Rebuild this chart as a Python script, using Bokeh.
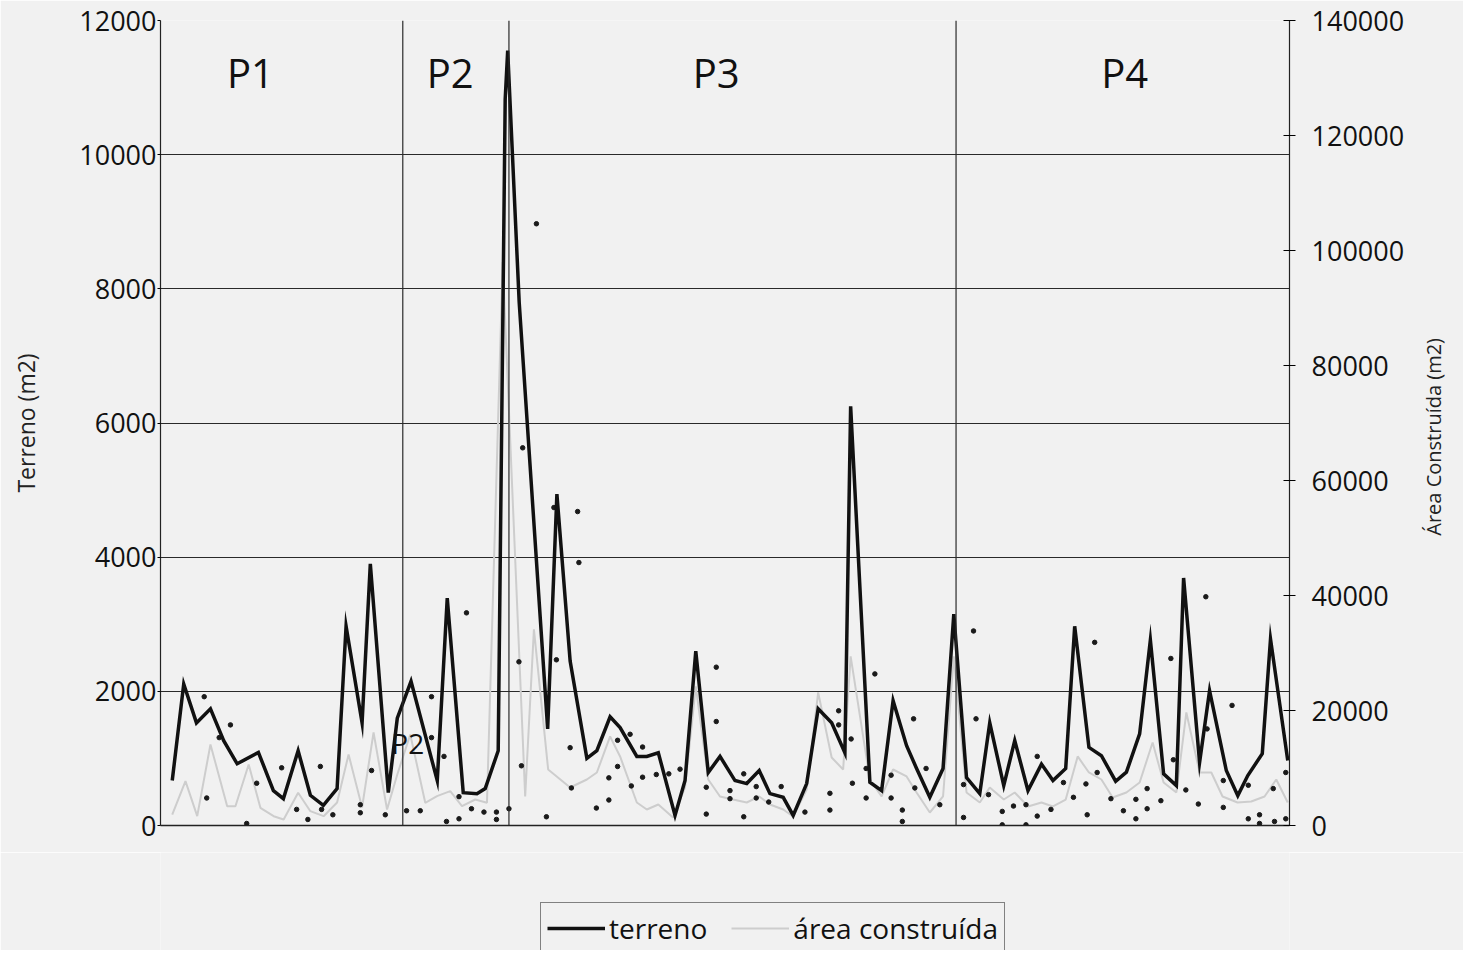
import math
from bokeh.plotting import figure
from bokeh.layouts import column
from bokeh.models import (LinearAxis, Range1d, FixedTicker, BasicTickFormatter, Span,
                          Label, Legend, LegendItem)
from bokeh.core.properties import value
from bokeh.embed import file_html
from bokeh.resources import INLINE

FONT = "Open Sans"

# ---------------- data ----------------
period_labels = ["P1", "P2", "P3", "P4"]
period_bounds = [19.0, 27.5, 63.3]          # separators between periods (x units)
period_centers = [6.8, 22.8, 44.1, 76.8]

terreno_x = [0.54, 1.46, 2.48, 3.6, 4.66, 5.74, 7.44, 8.64, 9.44, 10.62, 11.6, 12.64, 13.74,
             14.46, 15.74, 16.4, 17.84, 18.56, 19.66, 21.76, 22.56, 23.84, 24.94, 25.6, 26.64,
             27.2, 27.4, 28.32, 30.6, 31.34, 32.4, 33.74, 34.54, 35.6, 36.4, 37.74, 38.54, 39.46,
             40.8, 41.6, 42.46, 43.46, 44.4, 45.6, 46.54, 47.54, 48.4, 49.46, 50.26, 51.34, 52.26,
             53.34, 54.4, 54.86, 56.4, 57.34, 58.26, 59.34, 60.14, 61.2, 62.26, 63.12, 64.14, 65.2,
             66.0, 67.12, 68.0, 69.06, 70.14, 71.06, 72.08, 72.8, 73.94, 74.94, 76.08, 76.94, 78.0,
             78.86, 79.92, 80.94, 81.52, 82.8, 83.6, 84.94, 85.86, 86.66, 87.82, 88.48, 89.86]
terreno = [670, 2110, 1530, 1740, 1265, 920, 1090, 520, 400, 1115, 450, 300, 550, 2970, 1530,
           3900, 490, 1600, 2150, 670, 3390, 490, 475, 550, 1115, 10830, 11550, 7800, 1440, 4940,
           2450, 1000, 1115, 1620, 1460, 1030, 1030, 1085, 150, 670, 2600, 790, 1030, 670, 625,
           820, 475, 420, 150, 625, 1740, 1530, 1085, 6250, 645, 520, 1860, 1190, 850, 420, 850,
           3150, 715, 475, 1530, 595, 1265, 520, 915, 670, 850, 2970, 1165, 1040, 660, 795, 1365,
           2765, 770, 595, 3690, 940, 2010, 820, 445, 745, 1070, 2780, 970]

area_x = [0.54, 1.6, 2.54, 3.6, 4.94, 5.6, 6.66, 7.6, 8.66, 9.46, 10.62, 11.6, 12.66, 13.74, 14.66,
          15.74, 16.66, 17.74, 18.56, 19.6, 20.8, 21.74, 22.8, 23.74, 24.8, 25.74, 27.0, 28.8, 29.5,
          30.64, 32.4, 33.74, 34.54, 35.6, 36.4, 37.74, 38.54, 39.46, 40.64, 41.6, 42.46, 43.46,
          44.4, 45.44, 46.54, 47.54, 48.4, 49.46, 50.26, 51.34, 52.26, 53.34, 54.26, 54.86, 56.4,
          57.34, 58.26, 59.34, 60.14, 61.2, 62.26, 63.12, 64.14, 65.2, 66.0, 67.12, 68.0, 69.06,
          70.14, 71.06, 72.08, 73.04, 73.94, 74.94, 75.84, 76.94, 78.0, 79.04, 79.92, 80.94, 81.74,
          82.8, 83.74, 84.64, 85.84, 86.94, 88.0, 88.94, 89.86]
area = [1910, 7710, 1620, 14090, 3360, 3360, 10610, 3080, 1620, 1040, 5690, 2490, 1620, 4000,
        12350, 3130, 16180, 2780, 8870, 15830, 3950, 5100, 5970, 3360, 4520, 3950, 98000, 5050,
        34100, 9740, 6610, 8000, 9220, 15490, 12010, 4000, 2780, 3650, 1390, 6610, 24190, 8000,
        5050, 4520, 4000, 5050, 3650, 2780, 1570, 6260, 23140, 11830, 9740, 29410, 8000, 5050,
        9740, 8530, 5740, 2260, 5050, 29410, 5740, 4000, 6610, 4520, 5740, 3310, 4000, 3310, 4520,
        12010, 9220, 8000, 4870, 5740, 7480, 14440, 7480, 5740, 19660, 9220, 9220, 5050, 4000,
        4180, 5050, 8000, 4000]

dots_x = [3.1, 5.2, 4.3, 3.3, 7.3, 9.3, 6.5, 10.5, 11.4, 12.4,
          12.5, 13.4, 15.6, 15.6, 16.5, 17.6, 19.3, 21.3, 21.3, 22.3,
          20.4, 22.5, 23.5, 23.5, 24.5, 25.5, 26.5, 26.5, 27.5, 28.3,
          31.3, 28.5, 32.4, 32.5, 30.5, 34.5, 35.5, 35.5, 36.2, 36.2,
          37.2, 37.3, 38.2, 38.2, 29.7, 28.6, 31.1, 33.0, 33.1, 39.3,
          40.3, 41.2, 43.3, 43.3, 44.1, 44.1, 45.2, 45.2, 46.3, 46.3,
          47.3, 47.3, 48.3, 49.3, 51.2, 53.2, 53.2, 53.9, 53.9, 56.8,
          64.7, 54.9, 56.1, 55.0, 56.1, 58.1, 58.1, 59.9, 60.0, 60.9,
          59.0, 59.0, 62.0, 64.9, 63.9, 63.9, 65.9, 67.0, 67.0, 67.9,
          68.9, 68.9, 69.8, 69.8, 71.9, 70.9, 72.7, 73.7, 73.8, 74.4,
          74.6, 75.7, 76.7, 77.7, 77.7, 78.6, 78.6, 79.7, 80.5, 80.7,
          81.7, 83.3, 82.7, 83.4, 84.7, 84.7, 85.4, 86.7, 86.7, 87.6,
          87.6, 88.7, 88.8, 89.7, 89.7, 24.1]
dots_v = [1920, 1500, 1310, 410, 630, 860, 30, 240, 90, 880,
          240, 160, 310, 190, 820, 160, 220, 1920, 1310, 1030,
          220, 60, 430, 100, 250, 200, 200, 90, 250, 2440,
          2470, 890, 1160, 560, 130, 260, 380, 710, 1270, 880,
          1360, 590, 1170, 720, 8970, 5630, 4740, 4680, 3920, 760,
          770, 840, 570, 170, 2360, 1550, 520, 400, 770, 130,
          580, 410, 350, 580, 200, 480, 230, 1710, 1500, 2260,
          2900, 1290, 850, 630, 410, 750, 410, 1590, 560, 850,
          230, 60, 310, 1590, 610, 120, 460, 210, 10, 290,
          310, 10, 1030, 140, 640, 240, 420, 620, 160, 2730,
          790, 400, 220, 390, 100, 550, 250, 370, 2490, 980,
          530, 3410, 320, 1440, 670, 270, 1790, 600, 100, 160,
          30, 550, 60, 790, 100, 3170]

left_ticks = [0, 2000, 4000, 6000, 8000, 10000, 12000]
right_ticks = [0, 20000, 40000, 60000, 80000, 100000, 120000, 140000]
right_title = "Área Construída (m2)"
series_names = ["terreno", "área construída"]

TERR_STYLE = dict(line_color="#111111", line_width=3.5)
AREA_STYLE = dict(line_color="#cdcdcd", line_width=2)

# ---------------- main figure ----------------
BG = "#f1f1f1"
W = 1463
p = figure(width=W, height=852, x_range=Range1d(-0.4, 90.0), y_range=Range1d(0, 12000),
           output_backend="svg", toolbar_location=None,
           min_border_left=160, min_border_right=173, min_border_top=20, min_border_bottom=27)
p.background_fill_color = BG
p.border_fill_color = BG
p.outline_line_color = None
p.xgrid.visible = False
p.ygrid.ticker = FixedTicker(ticks=left_ticks[1:-1])
p.ygrid.grid_line_color = "#2a2a2a"
p.ygrid.grid_line_width = 1.2

# x axis: baseline only
p.xaxis.ticker = FixedTicker(ticks=[])
p.xaxis.axis_line_color = "#222"
p.xaxis.axis_line_width = 1.5
p.xaxis.major_tick_line_color = None
p.xaxis.minor_tick_line_color = None
p.xaxis.major_tick_out = 0
p.xaxis.major_tick_in = 0
p.xaxis.major_label_standoff = 0

# left axis
ya = p.yaxis[0]
ya.ticker = FixedTicker(ticks=left_ticks)
ya.formatter = BasicTickFormatter(use_scientific=False)
ya.axis_label = "Terreno (m2)"
ya.axis_label_text_font = FONT
ya.axis_label_text_font_style = "normal"
ya.axis_label_text_font_size = "23px"
ya.axis_label_text_color = "#222"
ya.axis_label_standoff = 34
ya.major_label_text_font = FONT
ya.major_label_text_font_size = "27px"
ya.major_label_text_color = "#111"
ya.major_label_standoff = 1
ya.major_tick_out = 3
ya.major_tick_in = 0
ya.minor_tick_line_color = None
ya.axis_line_color = "#222"
ya.axis_line_width = 1.2

# right axis
p.extra_y_ranges = {"area": Range1d(0, 140000)}
ra = LinearAxis(y_range_name="area", ticker=FixedTicker(ticks=right_ticks),
                formatter=BasicTickFormatter(use_scientific=False))
ra.major_label_text_font = FONT
ra.major_label_text_font_size = "27px"
ra.major_label_text_color = "#111"
ra.major_label_standoff = 16
ra.major_tick_out = 6
ra.major_tick_in = 6
ra.minor_tick_line_color = None
ra.axis_line_color = "#222"
ra.axis_line_width = 1.2
p.add_layout(ra, "right")

# right-hand title, reading bottom-to-top like the reference
rt = LinearAxis(y_range_name="area", ticker=FixedTicker(ticks=[50400]),
                major_label_overrides={50400: right_title})
rt.axis_line_color = None
rt.major_tick_line_color = None
rt.minor_tick_line_color = None
rt.major_tick_out = 0
rt.major_tick_in = 0
rt.major_label_orientation = math.pi / 2
rt.major_label_standoff = 26
rt.major_label_text_font = FONT
rt.major_label_text_font_size = "20px"
rt.major_label_text_color = "#222"
p.add_layout(rt, "right")

# period separators
for b in period_bounds:
    p.add_layout(Span(location=b, dimension="height", line_color="#2a2a2a", line_width=1.2))

# series
r_area = p.line(area_x, area, y_range_name="area", **AREA_STYLE)
p.scatter(dots_x, dots_v, size=4.5, color="#1a1a1a")
r_terr = p.line(terreno_x, terreno, line_join="miter", **TERR_STYLE)

# period labels
p.text(x=period_centers, y=[11230] * 4, text=period_labels, text_align="center",
       text_baseline="middle", text_font=value(FONT), text_font_size="40px", text_color="#111")
p.add_layout(Label(x=19.4, y=1230, text="P2", text_align="center", text_baseline="middle",
                   text_font=FONT, text_font_size="28px", text_color="#111"))

# ---------------- legend strip below the chart ----------------
# (its frame is aligned with the chart's frame by the column layout)
lg = figure(width=W, height=98, x_range=Range1d(0, 1), y_range=Range1d(0, 1),
            output_backend="svg", toolbar_location=None,
            min_border_left=160, min_border_right=173, min_border_top=0, min_border_bottom=0)
lg.background_fill_color = BG
lg.border_fill_color = BG
lg.outline_line_color = None
lg.axis.visible = False
lg.grid.visible = False
# same series, drawn outside this strip's ranges: they only feed the legend keys
k_terr = lg.line(terreno_x, terreno, **TERR_STYLE)
k_area = lg.line(area_x, area, **AREA_STYLE)
legend = Legend(items=[LegendItem(label=series_names[0], renderers=[k_terr]),
                       LegendItem(label=series_names[1], renderers=[k_area])],
                orientation="horizontal", location=(380, -4),
                label_text_font=FONT, label_text_font_size="28px", label_text_color="#111",
                glyph_width=58, glyph_height=22, spacing=24, padding=6, margin=0,
                label_standoff=4, border_line_color="#111", border_line_width=1.5,
                background_fill_color=BG, background_fill_alpha=1.0)
lg.add_layout(legend)

layout = column(p, lg, spacing=0)
open("out.html", "w").write(file_html(layout, INLINE))
